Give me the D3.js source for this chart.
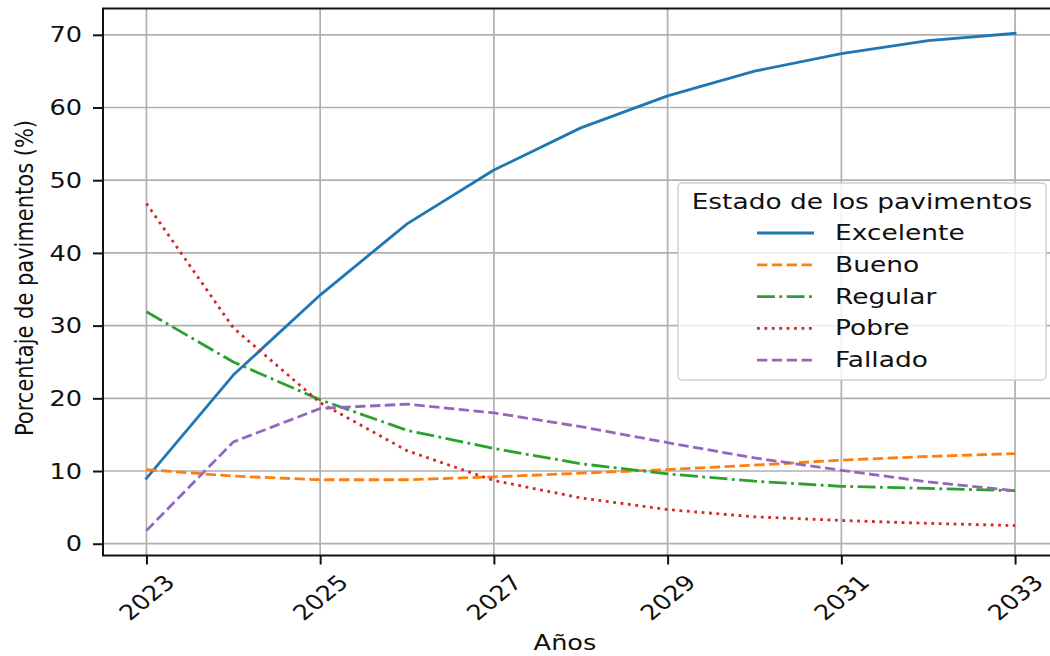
<!DOCTYPE html>
<html>
<head>
<meta charset="utf-8">
<script src="https://cdn.jsdelivr.net/npm/d3@7"></script>
<style>
  html, body { margin: 0; padding: 0; background: #fff; }
  svg { display: block; }
  text { font-family: "DejaVu Sans", sans-serif; fill: #111; }
</style>
</head>
<body>
<svg id="chart" width="1050" height="656"></svg>
<script>
// Projected pavement condition shares, 2023–2033
const years = [2023, 2024, 2025, 2026, 2027, 2028, 2029, 2030, 2031, 2032, 2033];
const excelente = [9.0, 23.2, 34.2, 44.0, 51.4, 57.2, 61.6, 65.0, 67.4, 69.2, 70.2];
const bueno     = [10.2, 9.3, 8.8, 8.8, 9.2, 9.7, 10.2, 10.8, 11.5, 12.0, 12.4];
const regular   = [31.9, 25.0, 19.8, 15.6, 13.1, 11.0, 9.6, 8.6, 7.9, 7.6, 7.3];
const pobre     = [46.8, 29.7, 19.4, 12.8, 8.7, 6.3, 4.7, 3.7, 3.2, 2.8, 2.5];
const fallado   = [1.8, 14.0, 18.6, 19.2, 18.0, 16.1, 13.9, 11.8, 10.1, 8.5, 7.3];

const seriesNames = ["Excelente", "Bueno", "Regular", "Pobre", "Fallado"];
const seriesValues = [excelente, bueno, regular, pobre, fallado];
const xTicks = [2023, 2025, 2027, 2029, 2031, 2033];
const yTicks = [0, 10, 20, 30, 40, 50, 60, 70];
const legendTitle = "Estado de los pavimentos";
const xTitle = "Años";
const yTitle = "Porcentaje de pavimentos (%)";

const colors = ["#1f77b4", "#ff7f0e", "#2ca02c", "#d62728", "#9467bd"];
const lw = 2.8;
const dashes = [null, `${3.7*lw},${1.6*lw}`, `${6.4*lw},${1.6*lw},${1*lw},${1.6*lw}`, `${1*lw},${1.65*lw}`, `${3.7*lw},${1.6*lw}`];

const SX = 1.22;      // horizontal text stretch
const FS = 21;        // font size in px

const svg = d3.select("#chart");
const plot = { left: 103, top: 8.5, right: 1058.5, bottom: 555.5 };

// 5% data margins on both axes
const xMin = d3.min(years), xMax = d3.max(years);
const xPad = (xMax - xMin) * 0.05;
const allVals = seriesValues.flat();
const yLo = d3.min(allVals), yHi = d3.max(allVals);
const yPad = (yHi - yLo) * 0.05;

const x = d3.scaleLinear().domain([xMin - xPad, xMax + xPad]).range([plot.left, plot.right]);
const y = d3.scaleLinear().domain([yLo - yPad, yHi + yPad]).range([plot.bottom, plot.top]);

svg.append("defs").append("clipPath").attr("id", "plotclip")
  .append("rect").attr("x", plot.left).attr("y", plot.top)
  .attr("width", plot.right - plot.left).attr("height", plot.bottom - plot.top);

// grid
const grid = svg.append("g").attr("stroke", "#b0b0b0").attr("stroke-width", 1.7);
grid.selectAll("line.gx").data(xTicks).join("line")
  .attr("x1", d => x(d)).attr("x2", d => x(d))
  .attr("y1", plot.top).attr("y2", plot.bottom);
grid.selectAll("line.gy").data(yTicks).join("line")
  .attr("x1", plot.left).attr("x2", plot.right)
  .attr("y1", d => y(d)).attr("y2", d => y(d));

// series
const line = d3.line().x((d, i) => x(years[i])).y(d => y(d));
const lines = svg.append("g").attr("clip-path", "url(#plotclip)");
seriesValues.forEach((vals, k) => {
  lines.append("path")
    .attr("d", line(vals))
    .attr("fill", "none")
    .attr("stroke", colors[k])
    .attr("stroke-width", lw)
    .attr("stroke-dasharray", dashes[k])
    .attr("stroke-linejoin", "round")
    .attr("stroke-linecap", k === 0 ? "square" : "butt");
});

// spines
svg.append("rect")
  .attr("x", plot.left).attr("y", plot.top)
  .attr("width", plot.right - plot.left).attr("height", plot.bottom - plot.top)
  .attr("fill", "none").attr("stroke", "#111").attr("stroke-width", 2);

// x axis ticks and labels
const xAxis = svg.append("g").attr("transform", `translate(0,${plot.bottom})`)
  .call(d3.axisBottom(x).tickValues(xTicks).tickFormat(d3.format("d")).tickSize(9).tickSizeOuter(0));
xAxis.select(".domain").remove();
xAxis.selectAll(".tick line").attr("stroke", "#111").attr("stroke-width", 2);
xAxis.selectAll(".tick text")
  .attr("font-size", FS)
  .attr("font-family", "DejaVu Sans")
  .attr("fill", "#111")
  .attr("text-anchor", "middle")
  .attr("dominant-baseline", "central")
  .attr("y", null).attr("dy", null)
  .attr("transform", `translate(0,42) scale(${SX},1) rotate(-45)`);

// y axis ticks and labels
const yAxis = svg.append("g").attr("transform", `translate(${plot.left},0)`)
  .call(d3.axisLeft(y).tickValues(yTicks).tickSize(10).tickSizeOuter(0));
yAxis.select(".domain").remove();
yAxis.selectAll(".tick line").attr("stroke", "#111").attr("stroke-width", 2);
yAxis.selectAll(".tick text")
  .attr("font-size", FS)
  .attr("font-family", "DejaVu Sans")
  .attr("fill", "#111")
  .attr("text-anchor", "end")
  .attr("dominant-baseline", "central")
  .attr("x", null).attr("dy", null)
  .attr("transform", `translate(-21,0) scale(${SX},1)`);

// axis titles
svg.append("text")
  .attr("transform", `translate(${(plot.left + 1015) / 2 + 6},650) scale(${SX},1)`)
  .attr("text-anchor", "middle")
  .attr("font-size", FS)
  .text(xTitle);

svg.append("text")
  .attr("transform", `translate(33,278) scale(${SX},1) rotate(-90)`)
  .attr("text-anchor", "middle")
  .attr("font-size", FS)
  .text(yTitle);

// legend
const LSX = 1.26;
const lg = svg.append("g");
lg.append("rect")
  .attr("x", 678).attr("y", 183).attr("width", 368).attr("height", 197)
  .attr("rx", 4).attr("ry", 4)
  .attr("fill", "rgba(255,255,255,0.8)")
  .attr("stroke", "#d0d0d0").attr("stroke-width", 1.5);
lg.append("text")
  .attr("transform", `translate(862,209) scale(${LSX},1)`)
  .attr("text-anchor", "middle")
  .attr("font-size", FS)
  .text(legendTitle);
seriesNames.forEach((name, k) => {
  const cy = 233 + k * 31.8;
  lg.append("line")
    .attr("x1", 757).attr("x2", 814).attr("y1", cy).attr("y2", cy)
    .attr("stroke", colors[k]).attr("stroke-width", lw)
    .attr("stroke-dasharray", dashes[k]);
  lg.append("text")
    .attr("transform", `translate(835,${cy}) scale(${LSX},1)`)
    .attr("dominant-baseline", "central")
    .attr("font-size", FS)
    .text(name);
});
</script>
</body>
</html>
